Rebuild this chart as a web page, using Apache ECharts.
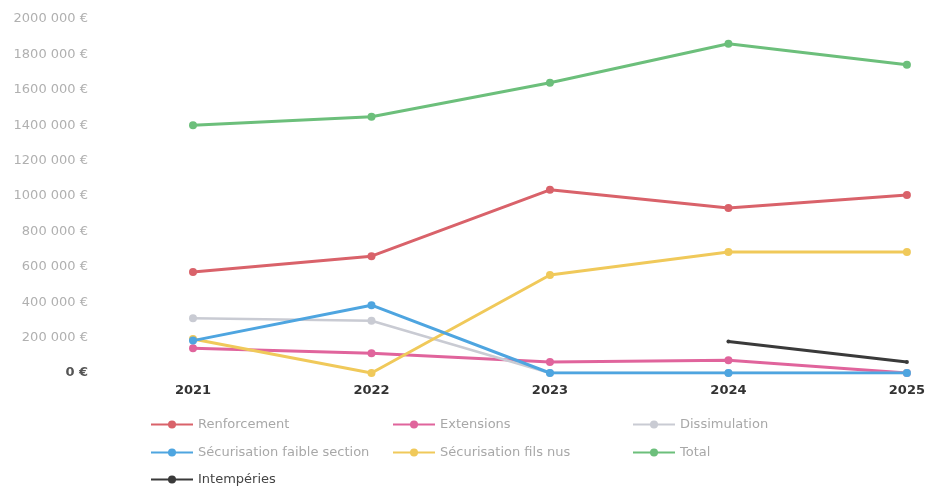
<!DOCTYPE html>
<html><head><meta charset="utf-8">
<script src="https://cdn.jsdelivr.net/npm/echarts@6/dist/echarts.min.js"></script>
<style>html,body{margin:0;padding:0;background:#fff}#c{width:928px;height:486px}</style>
</head><body><div id="c"></div>
<script>
const years = ['2021','2022','2023','2024','2025'];
const renforcement = [570000, 660000, 1035000, 932000, 1005000];
const extensions = [140000, 112000, 62000, 72000, 0];
const dissimulation = [310000, 295000, 0, 0, 0];
const securisationFaible = [183000, 383000, 0, 0, 0];
const securisationFils = [192000, 0, 554000, 684000, 684000];
const total = [1400000, 1448000, 1640000, 1860000, 1742000];
const intemperies = [null, null, null, 178000, 62000];

const names = ['Renforcement','Extensions','Dissimulation','Sécurisation faible section','Sécurisation fils nus','Total','Intempéries'];
const colors = ['#d9626a','#e0649c','#c9cbd3','#4ea5e0','#f0c95a','#6cbf7b','#3a3a3a'];
const datas = [renforcement, extensions, dissimulation, securisationFaible, securisationFils, total, intemperies];

const font = 'DejaVu Sans';
const legendPos = [[150,418],[392,418],[632,418],[150,446],[392,446],[632,446],[150,473]];
const legends = names.map((n,i)=>({
  data:[n], left:legendPos[i][0], top:legendPos[i][1], itemWidth:42, itemHeight:10, itemGap:4, padding:0,
  textStyle:{color: i===6 ? '#444' : '#a8a8a8', fontSize:13, fontFamily:font},
  selectedMode:false
}));

const chart = echarts.init(document.getElementById('c'));
chart.setOption({
  animation:false,
  color: colors,
  grid:{left:193, right:19, top:19, bottom:113},
  legend: legends,
  xAxis:{type:'category', data:years, boundaryGap:false,
    axisLine:{show:false}, axisTick:{show:false},
    axisLabel:{color:'#333', fontSize:13, fontWeight:'bold', fontFamily:font, margin:11}},
  yAxis:{type:'value', min:0, max:2000000, interval:200000,
    splitLine:{show:false}, axisLine:{show:false}, axisTick:{show:false},
    axisLabel:{margin:105, fontSize:13, fontFamily:font, color:'#b0b0b0',
      formatter: v => v===0 ? '{z|0 €}' : Math.floor(v/1000)+' 000 €',
      rich:{z:{color:'#555', fontSize:13, fontFamily:font, fontWeight:'bold'}}}},
  series: names.map((n,i)=>({
    name:n, type:'line', data:datas[i], symbol:'circle', symbolSize: i===6?4:8,
    lineStyle:{width: i===2?2.5:3, color:colors[i]}, itemStyle:{color:colors[i]},
    z: i===3 ? 5 : 3
  }))
});
</script></body></html>
